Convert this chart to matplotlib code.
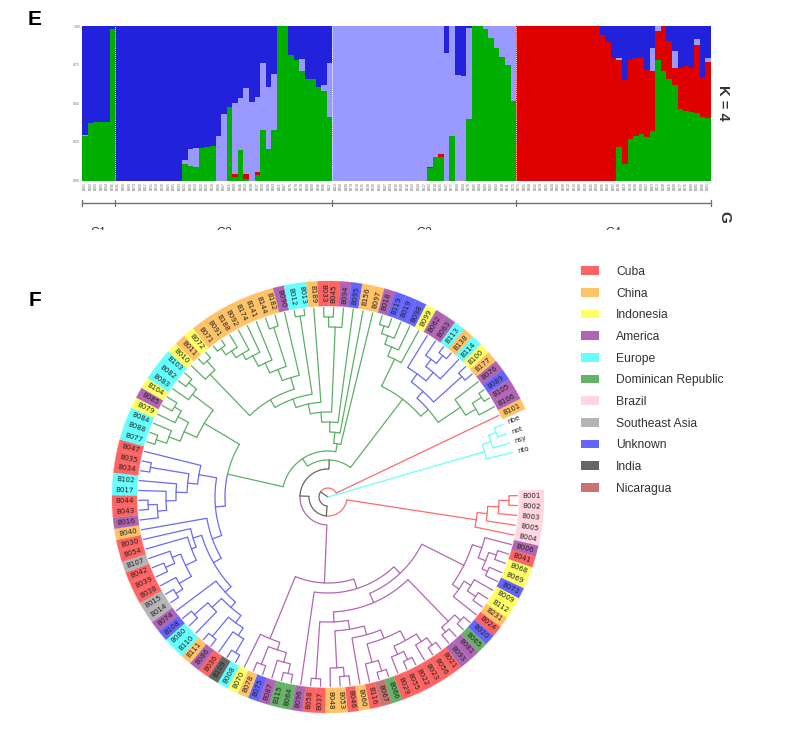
import numpy as np
import matplotlib
matplotlib.use("Agg")
import matplotlib.pyplot as plt
from matplotlib.patches import Wedge, Patch
from matplotlib.transforms import Bbox

plt.rcParams['font.family'] = ['Liberation Sans', 'DejaVu Sans']

# ---------- E: admixture proportions ----------
group_names = ["G1", "G2", "G3", "G4"]
group_sizes = [6, 39, 33, 35]

green_g1 = [.29, .375, .38, .38, .38, .98]
red_g1 = [0, 0, 0, 0, 0, 0]
lav_g1 = [.005, 0, 0, 0, 0, 0]

green_g2 = [0]*12 + [.11, .095, .09, .21, .215, .225, 0, 0, .475, .025, .20, .01, 0, .035, .325, .205, .325,
                     1, 1, .81, .78, .71, .66, .66, .605, .58, .41]
red_g2 = [0]*12 + [0]*9 + [.02, 0, .035, 0, .02] + [0]*13
lav_g2 = [0]*12 + [.02, .11, .12, 0, 0, 0, .29, .43, 0, .455, .335, .555, .505, .485, .435, .40, .365,
                   0, 0, 0, 0, .075, 0, 0, 0, .035, .35]

green_g3 = [0]*17 + [.08, .155, .155, 0, .29, 0, 0, .40, 1, 1, .98, .925, .86, .80, .75, .515]
red_g3 = [0]*17 + [.01, 0, .015] + [0]*13
lav_g3 = [1]*17 + [.91, .845, .83, .825, .71, .68, .675, .59, 0, 0, .02, .075, .14, .20, .25, .485]

green_g4 = [0]*18 + [.22, .105, .27, .285, .30, .28, .32, .78, .71, .655, .615, .46, .45, .445, .435, .41, .405]
red_g4 = [1]*15 + [.94, .895, .795, .56, .545, .51, .505, .50, .435, .39, .185, .29, .245, .115, .27, .29, .285, .44, .26, .365]
lav_g4 = [0]*18 + [.01, 0, 0, 0, 0, 0, .145, .035, 0, 0, .11, 0, 0, 0, .04, 0, .025]

# ---------- F: tree ----------
GREEN, BLUE, PURPLE, RED, CYAN, GRAY = '#5DAF68', '#6A6AF5', '#B068B4', '#FF6A6A', '#66FFFF', '#666666'

brazil = (150, [(160, [(171, [(181, ["B001", "B002"]), "B003"]), "B005"]), "B004"], RED)
c_top = (162, ["B006", (170, [(178, ["B041", "B068"]), (176, ["B069", "B073"])])])
c_bot = (160, [(168, ["B009", (178, ["B112", "B231"])]), "B024"])
clade_c = (152, [c_top, c_bot])
clade_d = (173, [(181, ["B020", "B065"]), (179, ["B081", "B093"])])
m3_right = (172, [(181, ["B021", "B056"]), "B023"])
m3_left = (172, [(181, ["B022", "B055"]), "B029"])
n1 = (171, [(182, ["B066", "B067"]), "B116"])
clade_m = (143, [(152, [(163, [m3_right, m3_left]), n1]), "B060"])
clade_l = (171, [(180, ["B046", "B053"]), "B048"])
clade_h = (134, [clade_m, clade_l])
clade_g = (125, [clade_h, (182, ["B037", "B058"])])
clade_f = (115, [clade_d, clade_g])
clade_x = (105, [clade_c, clade_f])
p96 = (96, [clade_x, "B096"])
clade_a = (153, [(161, [(171, [(181, ["B064", "B115"]), "B087"]), (180, ["B075", "B078"])]), "B070"])
purple_clade = (86, [p96, clade_a], PURPLE)

v5 = (181, ["B008", "B109"])
v6 = (165, [v5, "B036"])
v3 = (181, ["B086", "B111"])
v8 = (156, [v6, v3])
v2 = (160, ["B110", (178, ["B080", "B108"])])
v10 = (140, [(147, [v8, v2]), "B074"])
b3 = (172, [(180, ["B014", "B015"]), "B038"])
b2 = (167, [(177, ["B039", "B042"]), "B107"])
b6 = (141, [(146, [(158, [b3, b2]), "B054"]), "B030"])
b_low = (123, [(132, [v10, b6]), "B040"])
u2 = (171, ["B016", (180, ["B043", "B044"])])
u4 = (152, [(162, [u2, "B017"]), "B102"])
b_up = (131, [(141, [u4, (180, ["B034", "B035"])]), "B047"])
blue_main = (113, [b_low, b_up], BLUE)

q2 = (170, [(181, ["B077", "B088"]), "B084"])
q5 = (170, ["B079", (178, ["B085", "B104"])])
q8 = (170, ["B083", (180, ["B082", "B103"])])
q_green = (144, [(158, [q2, q5]), q8])
clade_q = (103, [blue_main, q_green])

l1 = (183, ["B071", "B091"])
l4 = (160, [(167, [(175, [l1, "B188"]), "B092"]), "B174"])
l6 = (137, [(148, [l4, "B141"]), (178, ["B144", "B182"])])
l7 = (125, [l6, "B090"])
w = (113, [(170, ["B010", (182, ["B011", "B072"])]), l7])
s95 = (95, [(104, [w, (183, ["B012", "B013"])]), "B189"])
t170 = (170, [(180, ["B033", "B045"]), "B094"])
t54 = (54, [(65, [(75, [(85, [s95, t170]), "B095"]), "B156"]), "B097"])
r46 = (46, [clade_q, t54], GREEN)

g1 = (153, [(163, [(172, [(180, ["B018", "B119"]), "B019"]), "B098"]), "B099"])
bl3 = (163, [(172, ["B063", (182, ["B113", "B138"])]), "B114"])
bl5 = (142, [(152, ["B062", bl3]), (180, ["B100", "B177"])], BLUE)
gl2 = (172, [(183, ["B089", "B105"]), "B106"])
gl = (160, ["B076", gl2])
r123 = (123, [g1, (133, [bl5, gl])], GREEN)

r37 = (37, [r46, r123])
r28 = (28, [purple_clade, r37])
r19 = (19, [brazil, r28])
r9 = (9, [r19, ("B101", RED)], GRAY)
outgroup = (163, [(172, [(180, ["nbe", "not"]), "nsy"]), "nto"], CYAN)
tree = (0, [r9, outgroup], GRAY)

leaf_names = ["B001","B002","B003","B005","B004","B006","B041","B068","B069","B073","B009","B112","B231","B024",
    "B020","B065","B081","B093","B021","B056","B023","B022","B055","B029","B066","B067","B116","B060","B046","B053",
    "B048","B037","B058","B096","B064","B115","B087","B075","B078","B070","B008","B109","B036","B086","B111","B110",
    "B080","B108","B074","B014","B015","B038","B039","B042","B107","B054","B030","B040","B016","B043","B044","B017",
    "B102","B034","B035","B047","B077","B088","B084","B079","B085","B104","B083","B082","B103","B010","B011","B072",
    "B071","B091","B188","B092","B174","B141","B144","B182","B090","B012","B013","B189","B033","B045","B094","B095",
    "B156","B097","B018","B119","B019","B098","B099","B062","B063","B113","B138","B114","B100","B177","B076","B089",
    "B105","B106","B101"]
Cu, Ch, In, Am, Eu, Do, Br, Se, Un, Id, Ni = ("Cuba", "China", "Indonesia", "America", "Europe", "Dominican Republic",
    "Brazil", "Southeast Asia", "Unknown", "India", "Nicaragua")
leaf_origin = [Br,Br,Br,Br,Br,Am,Cu,In,In,Un,In,In,Ch,Cu,Un,Do,Am,Am,Cu,Cu,Cu,Cu,Cu,Cu,Do,Ni,Cu,Ch,Cu,Ch,Ch,Cu,Cu,Am,
    Do,Do,Am,Un,Ch,In,Eu,Id,Cu,Am,Ch,Eu,Eu,Un,Am,Se,Se,Cu,Cu,Cu,Se,Cu,Cu,Ch,Am,Cu,Cu,Eu,Eu,Cu,Cu,Cu,Eu,Eu,Eu,In,Am,In,
    Eu,Eu,Eu,In,Ch,In,Ch,Ch,Ch,Ch,Ch,Ch,Ch,Ch,Am,Eu,Eu,Ch,Cu,Cu,Am,Un,Ch,Ch,Am,Un,Un,Un,In,Am,Am,Eu,Ch,Eu,In,Ch,Am,Un,
    Am,Am,Ch]
outgroup_names = ["nbe", "not", "nsy", "nto"]

legend_names = [Cu, Ch, In, Am, Eu, Do, Br, Se, Un, Id, Ni]
legend_colors = ['#FF6464', '#FFC266', '#FFFF66', '#B064B4', '#66FFFF', '#66B266', '#FFD6E2', '#B4B4B4', '#6464FF',
                 '#666666', '#C87474']

# ---------- figure ----------
W, H = 793, 729
fig = plt.figure(figsize=(W/100, H/100), dpi=100, facecolor='white')


def axes_px(x0, y0, x1, y1, **kw):
    return fig.add_axes([x0/W, 1 - y1/H, (x1 - x0)/W, (y1 - y0)/H], **kw)


# Panel E
ax = axes_px(82, 26, 711, 180.5)
green = np.array(green_g1 + green_g2 + green_g3 + green_g4, float)
red = np.array(red_g1 + red_g2 + red_g3 + red_g4, float)
lav = np.array(lav_g1 + lav_g2 + lav_g3 + lav_g4, float)
blue = np.clip(1 - green - red - lav, 0, 1)
xs = np.arange(green.size)
bottom = np.zeros(green.size)
for vals, col in [(green, '#00AE00'), (red, '#E00000'), (lav, '#9999FF'), (blue, '#2222DC')]:
    ax.bar(xs, vals, width=1.0, bottom=bottom, color=col, linewidth=0, antialiased=False)
    bottom = bottom + vals
ax.set_xlim(-0.5, green.size - 0.5)
ax.set_ylim(0, 1)
for s in ax.spines.values():
    s.set_visible(False)
ax.set_xticks(xs)
ax.set_xticklabels(leaf_names[:green.size], rotation=90, fontsize=2.4, color='#666666')
ax.set_yticks([0, .25, .5, .75, 1])
ax.set_yticklabels(['0.00', '0.25', '0.50', '0.75', '1.00'], fontsize=2.4, color='#666666')
ax.tick_params(length=0, pad=1.5)
edges = np.concatenate([[0], np.cumsum(group_sizes)]) - 0.5
tr = ax.get_xaxis_transform()
for b in edges[1:-1]:
    ax.plot([b, b], [0, 1], color='white', lw=0.7, ls=(0, (1, 1)), zorder=5)
ybr = -22.5/154.5
ax.plot([edges[0], edges[-1]], [ybr, ybr], color='#707070', lw=1.0, transform=tr, clip_on=False)
for b in edges:
    ax.plot([b, b], [ybr - .022, ybr + .022], color='#707070', lw=0.9, transform=tr, clip_on=False)
clip = Bbox.from_extents(0, H - 229.5, W, H)
for name, a, b in zip(group_names, edges[:-1], edges[1:]):
    t = ax.text((a + b)/2, -53/154.5, name, transform=tr, ha='center', va='center', fontsize=8.5, color='#333333')
    t.set_clip_on(True)
    t.set_clip_box(clip)
fig.text(723/W, 1 - 103/H, "K = 4", rotation=-90, ha='center', va='center', fontsize=10.5, fontweight='bold', color='#333333')
fig.text(724/W, 1 - 217/H, "G", rotation=-90, ha='center', va='center', fontsize=11, fontweight='bold', color='#333333')
fig.text(35/W, 1 - 19.5/H, "E", ha='center', va='center', fontsize=15, fontweight='bold', color='black')
fig.text(35/W, 1 - 300.5/H, "F", ha='center', va='center', fontsize=15, fontweight='bold', color='black')

# Panel F: 1 data unit = 1 pixel, centred on the tree root
cx, cy = 328, 497
tx = axes_px(100, 265, 560, 725)
tx.set_xlim(100 - cx, 560 - cx)
tx.set_ylim(cy - 725, cy - 265)
tx.axis('off')

STEP = 2.99
A0 = 0.4
TIP = 189.5
counter = [0]
segments = []


def cw_xy(cw, r):
    a = np.radians(A0 - cw)
    return r*np.cos(a), r*np.sin(a)


def layout(node, inherited):
    """Returns (position in degrees clockwise, radius, colour) and stores the edges."""
    if isinstance(node, str):
        node = (node, inherited)
    if isinstance(node[0], str):
        cw = STEP*counter[0]
        counter[0] += 1
        return cw, TIP, node[1]
    r, kids = node[0], node[1]
    col = node[2] if len(node) > 2 else inherited
    placed = [layout(k, col) for k in kids]
    cw = (placed[0][0] + placed[-1][0])/2
    for c_cw, c_r, c_col in placed:
        arc = np.linspace(cw, c_cw, max(2, int(abs(cw - c_cw)*r/40) + 2))
        px, py = cw_xy(arc, r)
        ex, ey = cw_xy(c_cw, np.array([r, c_r]))
        segments.append((np.r_[px, ex], np.r_[py, ey], c_col))
    return cw, r, col


layout(tree, GRAY)
for sx, sy, col in segments:
    tx.plot(sx, sy, color=col, lw=0.9, solid_joinstyle='round', solid_capstyle='round')

col_of = dict(zip(legend_names, legend_colors))
R0, R1, RT = 191, 216, 203.5
for i, (name, origin) in enumerate(zip(leaf_names, leaf_origin)):
    ang = A0 - STEP*i
    tx.add_patch(Wedge((0, 0), R1, ang - STEP/2, ang + STEP/2, width=R1 - R0, facecolor=col_of[origin],
                       edgecolor=col_of[origin], linewidth=0.15))
for i, name in enumerate(leaf_names + outgroup_names):
    ang = A0 - STEP*i
    rot = ang % 360
    rot = rot if (rot < 90 or rot > 270) else rot - 180
    x, y = cw_xy(STEP*i, RT if i < len(leaf_names) else 201)
    tx.text(x, y, name, rotation=rot, rotation_mode='anchor', ha='center', va='center', fontsize=5.1,
            family='DejaVu Sans', color='#222222')

handles = [Patch(facecolor=c, edgecolor='none', label=n) for n, c in zip(legend_names, legend_colors)]
fig.legend(handles=handles, loc='upper left', bbox_to_anchor=(581/W, 1 - 266/H), frameon=False, borderaxespad=0,
           borderpad=0, fontsize=8.7, handlelength=1.49, handleheight=0.72, handletextpad=1.4, labelspacing=0.80,
           labelcolor='#333333')

fig.savefig('out.png', dpi=100)
